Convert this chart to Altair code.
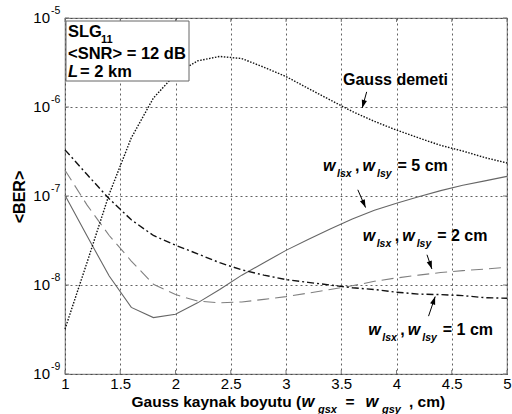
import math
import altair as alt
import pandas as pd

FONT = "Liberation Sans"

# Gauss source size w_gsx = w_gsy (cm)
beam_size = [1.0, 1.2, 1.4, 1.6, 1.8, 2.0, 2.2, 2.4, 2.6, 2.8, 3.0,
             3.2, 3.4, 3.6, 3.8, 4.0, 4.2, 4.4, 4.6, 4.8, 5.0]

# average BER for each source
ber_gauss = [3.2e-9, 1.8e-8, 1.05e-7, 4.5e-7, 1.26e-6, 2.35e-6, 3.3e-6, 3.7e-6,
             3.5e-6, 2.8e-6, 2.2e-6, 1.62e-6, 1.2e-6, 8.9e-7, 6.9e-7, 5.5e-7,
             4.5e-7, 3.7e-7, 3.2e-7, 2.7e-7, 2.35e-7]
ber_5cm = [1.02e-7, 3.55e-8, 1.26e-8, 5.6e-9, 4.3e-9, 4.7e-9, 6.3e-9, 8.9e-9,
           1.29e-8, 1.78e-8, 2.45e-8, 3.24e-8, 4.27e-8, 5.5e-8, 6.9e-8, 8.3e-8,
           9.8e-8, 1.15e-7, 1.32e-7, 1.48e-7, 1.66e-7]
ber_2cm = [1.95e-7, 7.9e-8, 3.6e-8, 1.86e-8, 1.02e-8, 7.8e-9, 6.6e-9, 6.3e-9,
           6.45e-9, 6.9e-9, 7.4e-9, 8.1e-9, 8.9e-9, 9.8e-9, 1.1e-8, 1.2e-8,
           1.29e-8, 1.38e-8, 1.45e-8, 1.51e-8, 1.58e-8]
ber_1cm = [3.3e-7, 1.74e-7, 9.3e-8, 5.4e-8, 3.6e-8, 2.8e-8, 2.24e-8, 1.78e-8,
           1.48e-8, 1.29e-8, 1.15e-8, 1.07e-8, 1.0e-8, 9.3e-9, 8.9e-9, 8.3e-9,
           7.9e-9, 7.8e-9, 7.6e-9, 7.2e-9, 7.1e-9]

x_ticks = [1, 1.5, 2, 2.5, 3, 3.5, 4, 4.5, 5]
y_exponents = [-9, -8, -7, -6, -5]

W, H = 442, 356
X_DOMAIN = [1, 5]
Y_DOMAIN = [1e-9, 1e-5]
PX_PER_X = W / (X_DOMAIN[1] - X_DOMAIN[0])
PX_PER_DECADE = H / 4

x_scale = alt.Scale(domain=X_DOMAIN, nice=False)
y_scale = alt.Scale(type="log", domain=Y_DOMAIN, nice=False)

GRID = dict(grid=True, gridDash=[2, 3], gridColor="#3a3a3a", gridWidth=0.8,
            gridOpacity=1, domain=False, ticks=False, tickSize=0, title=None)

x_enc = alt.X("w:Q", scale=x_scale,
              axis=alt.Axis(values=x_ticks, format="~g", labelFont=FONT,
                            labelFontSize=15, labelColor="black",
                            labelPadding=2, labelFlush=False, **GRID))
y_enc = alt.Y("ber:Q", scale=y_scale,
              axis=alt.Axis(values=[10.0 ** e for e in y_exponents],
                            labels=False, **GRID))


def series(values):
    return pd.DataFrame({"w": beam_size, "ber": values})


one = pd.DataFrame({"k": [0]})

lines = [
    alt.Chart(series(ber_5cm)).mark_line(color="#666666", strokeWidth=1.1)
    .encode(x=x_enc, y=y_enc),
    alt.Chart(series(ber_2cm)).mark_line(color="#808080", strokeWidth=1.1,
                                         strokeDash=[12, 6])
    .encode(x=x_enc, y=y_enc),
    alt.Chart(series(ber_1cm)).mark_line(color="#111111", strokeWidth=1.4,
                                         strokeDash=[7, 3, 2, 3])
    .encode(x=x_enc, y=y_enc),
    alt.Chart(series(ber_gauss)).mark_line(color="#111111", strokeWidth=1.4,
                                           strokeDash=[1.5, 1.5])
    .encode(x=x_enc, y=y_enc),
]

# small inward ticks on all four sides of the frame
tick_x = pd.DataFrame({"w": x_ticks})
tick_y = pd.DataFrame({"ber": [10.0 ** e for e in y_exponents]})
TICK = dict(color="#7a7a7a", strokeWidth=1)
ticks = [
    alt.Chart(tick_x).mark_rule(**TICK).encode(
        x=alt.X("w:Q", scale=x_scale), y=alt.value(H), y2=alt.value(H - 4)),
    alt.Chart(tick_x).mark_rule(**TICK).encode(
        x=alt.X("w:Q", scale=x_scale), y=alt.value(0), y2=alt.value(4)),
    alt.Chart(tick_y).mark_rule(**TICK).encode(
        y=alt.Y("ber:Q", scale=y_scale), x=alt.value(0), x2=alt.value(4)),
    alt.Chart(tick_y).mark_rule(**TICK).encode(
        y=alt.Y("ber:Q", scale=y_scale), x=alt.value(W - 4), x2=alt.value(W)),
]

# y tick labels: 10 with a raised exponent
ylab = pd.DataFrame({"ber": [10.0 ** e for e in y_exponents],
                     "exp": [str(e) for e in y_exponents]})
y_labels = [
    alt.Chart(ylab).mark_text(text="10", align="right", baseline="middle",
                              font=FONT, fontSize=15)
    .encode(y=alt.Y("ber:Q", scale=y_scale), x=alt.value(-15)),
    alt.Chart(ylab).mark_text(align="left", baseline="middle", dy=-7,
                              font=FONT, fontSize=10.5)
    .encode(y=alt.Y("ber:Q", scale=y_scale), x=alt.value(-14),
            text="exp:N"),
]


def pixel_text(text, x, y, size, italic=False, bold=True, align="left",
               angle=0):
    kw = dict(text=text, align=align, baseline="alphabetic", font=FONT,
              fontSize=size, fontWeight="bold" if bold else "normal",
              fontStyle="italic" if italic else "normal", color="black")
    if angle:
        kw["angle"] = angle
        kw["baseline"] = "middle"
    return alt.Chart(one).mark_text(**kw).encode(x=alt.value(x), y=alt.value(y))


def data_text(segments, x, y, size=16, sub=10.5):
    src = pd.DataFrame({"w": [x], "ber": [y]})
    out = []
    for text, dx, is_sub, italic in segments:
        out.append(
            alt.Chart(src).mark_text(
                text=text, align="left", baseline="alphabetic",
                dx=dx, dy=6 if is_sub else 0, font=FONT,
                fontSize=sub if is_sub else size, fontWeight="bold",
                fontStyle="italic" if italic else "normal", color="black")
            .encode(x=alt.X("w:Q", scale=x_scale),
                    y=alt.Y("ber:Q", scale=y_scale)))
    return out


def width_label(cm):
    return [("w", 0, False, True), ("lsx", 14, True, True),
            (",", 32, False, False), ("w", 39.5, False, True),
            ("lsy", 54, True, True), (f"= {cm} cm", 74.5, False, False)]


labels = []
labels += data_text([("Gauss demeti", 0, False, False)], 3.516, 10 ** -5.753)
labels += data_text(width_label(5), 3.335, 10 ** -6.719)
labels += data_text(width_label(2), 3.694, 10 ** -7.506)
labels += data_text(width_label(1), 3.745, 10 ** -8.562)

# annotation arrows: (tail x, tail BER, head x, head BER)
arrows = [
    (3.73, 10 ** -5.83, 3.69, 10 ** -6.01),
    (3.65, 10 ** -6.93, 3.72, 10 ** -7.13),
    (4.276, 10 ** -7.66, 4.32, 10 ** -7.82),
    (4.29, 10 ** -8.35, 4.35, 10 ** -8.13),
]
arrow_rows = []
for x0, y0, x1, y1 in arrows:
    dxp = (x1 - x0) * PX_PER_X
    dyp = -(math.log10(y1) - math.log10(y0)) * PX_PER_DECADE
    ang = math.degrees(math.atan2(-dxp, dyp)) % 360
    arrow_rows.append({"w": x0, "ber": y0, "w2": x1, "ber2": y1, "ang": ang})
arrow_df = pd.DataFrame(arrow_rows)
HEAD = "M0,0 L-0.33,-1 L0.33,-1 Z"
arrow_layers = [
    alt.Chart(arrow_df).mark_rule(color="black", strokeWidth=1).encode(
        x=alt.X("w:Q", scale=x_scale), y=alt.Y("ber:Q", scale=y_scale),
        x2="w2:Q", y2="ber2:Q"),
    alt.Chart(arrow_df).mark_point(shape=HEAD, filled=True, color="black",
                                   size=256, opacity=1).encode(
        x=alt.X("w2:Q", scale=x_scale), y=alt.Y("ber2:Q", scale=y_scale),
        angle=alt.Angle("ang:Q", scale=None)),
]

# inset box with the link parameters
box = [
    alt.Chart(one).mark_rect(fill="white", stroke="#666666", strokeWidth=1)
    .encode(x=alt.value(1), x2=alt.value(124), y=alt.value(3), y2=alt.value(63)),
    pixel_text("SLG", 3, 19, 16.5),
    pixel_text("11", 36, 24.7, 11),
    pixel_text("<SNR> = 12 dB", 3, 41, 16.5),
    pixel_text("L", 3, 58.7, 16.5, italic=True),
    pixel_text("=  2 km", 15, 58.7, 16.5),
]

# axis titles
titles = [
    pixel_text("<BER>", -45, 179, 16, align="center", angle=270),
    pixel_text("Gauss kaynak boyutu (", 66.5, 389, 15.5),
    pixel_text("w", 236.5, 389, 16.5, italic=True),
    pixel_text("gsx", 253, 395, 11, italic=True),
    pixel_text("=", 280.5, 389, 15.5),
    pixel_text("w", 300.5, 389, 16.5, italic=True),
    pixel_text("gsy", 317, 395, 11, italic=True),
    pixel_text(", cm)", 344, 389, 15.5),
]

chart = alt.layer(
    *lines, *ticks, *box, *labels, *arrow_layers, *y_labels, *titles
).properties(
    width=W, height=H,
    autosize=alt.AutoSizeParams(type="none"),
    padding={"left": 65, "top": 18, "right": 5, "bottom": 40},
    background="white",
).configure_view(stroke="#8a8a8a", strokeWidth=1.2)

chart.save("out.html", embed_options={"renderer": "svg", "actions": False})
